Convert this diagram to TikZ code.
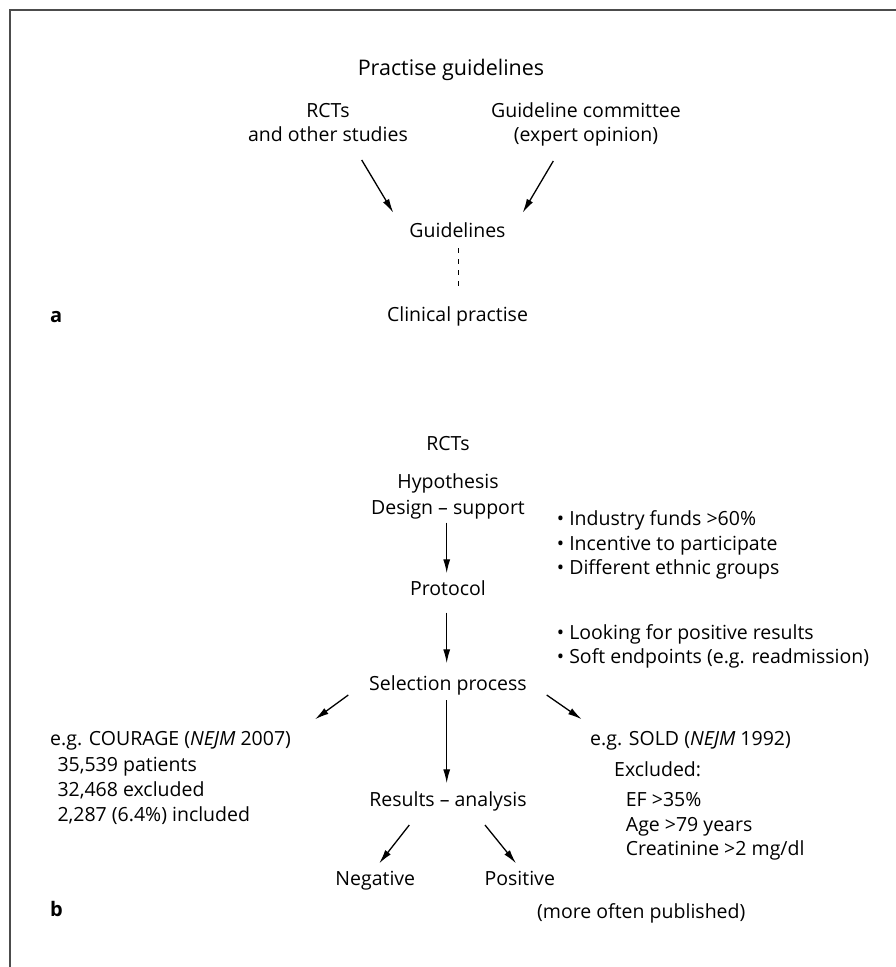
\documentclass[tikz,border=0pt]{standalone}
\usepackage{fontspec}
\setmainfont{Open Sans}
\usetikzlibrary{arrows.meta,calc}
\begin{document}
\begin{tikzpicture}[x=1pt,y=-1pt,
  txt/.style={inner sep=0pt,font=\fontsize{19.5}{23}\selectfont},
  ctr/.style={txt,anchor=base},
  lft/.style={txt,anchor=base west},
  arr/.style={line width=1.3pt,-{Latex[length=14pt,width=7pt]}},
  dsh/.style={line width=1.3pt,dash pattern=on 5pt off 6pt},
  lbl/.style={inner sep=0pt,anchor=base west,font=\fontsize{20}{24}\selectfont\bfseries},
  frame/.style={line width=2pt,draw=black!70}]
\useasboundingbox (0,0) rectangle (895,967);
\fill[white] (0,0) rectangle (895,967);
\draw[frame] (10,968) -- (10,10) -- (896,10);

% ---------- part a ----------
\node[ctr,font=\fontsize{21.5}{25}\selectfont] (title) at (451,75.7) {Practise guidelines};
\node[ctr] (rcts1) at (328,117.3) {RCTs};
\node[ctr] (rcts2) at (328,141.7) {and other studies};
\node[ctr] (gc1) at (586,117.3) {Guideline committee};
\node[ctr] (gc2) at (586,141.7) {(expert opinion)};
\node[ctr] (guide) at (457.5,237.3) {Guidelines};
\node[ctr] (clin) at (457.5,321.7) {Clinical practise};
\node[lbl] (la) at (50,322) {a};

\draw[arr] ($(rcts2.base)+(33.7,18.3)$) -- ($(guide.base)+(-64.2,-24.6)$);
\draw[arr] ($(gc2.base)+(-32.7,19.3)$) -- ($(guide.base)+(65.2,-24.6)$);
\draw[dsh] ($(guide.base)+(0.8,10.7)$) -- ($(clin.base)+(0.8,-31.7)$);

% ---------- part b ----------
\node[ctr] (rcts) at (448,450) {RCTs};
\node[ctr] (hyp1) at (448,488) {Hypothesis};
\node[ctr] (hyp2) at (448,514) {Design – support};
\node[ctr] (proto) at (448,595.7) {Protocol};
\node[ctr] (sel) at (448,690) {Selection process};
\node[ctr] (res) at (448,806.7) {Results – analysis};
\node[ctr] (neg) at (375.3,885) {Negative};
\node[ctr] (pos) at (519.8,885) {Positive};
\node[ctr] (pub) at (641.3,918.3) {(more often published)};

\node[lft] (i1) at (556.7,525) {• Industry funds >60\%};
\node[lft] (i2) at (556.7,550) {• Incentive to participate};
\node[lft] (i3) at (556.7,574) {• Different ethnic groups};
\node[lft] (i4) at (556.7,639) {• Looking for positive results};
\node[lft] (i5) at (556.7,663) {• Soft endpoints (e.g. readmission)};

\node[lft] (cou) at (50,745) {e.g. COURAGE (\textit{NEJM} 2007)};
\node[lft] (cou1) at (57.3,771.7) {35,539 patients};
\node[lft] (cou2) at (57.3,796.7) {32,468 excluded};
\node[lft] (cou3) at (57.3,821.7) {2,287 (6.4\%) included};

\node[lft] (sold) at (590,745) {e.g. SOLD (\textit{NEJM} 1992)};
\node[lft] (exc) at (614,776) {Excluded:};
\node[lft] (ex1) at (625.7,806.7) {EF >35\%};
\node[lft] (ex2) at (625.7,831) {Age >79 years};
\node[lft] (ex3) at (625.7,855) {Creatinine >2 mg/dl};

\node[lbl] (lb) at (50,916.7) {b};

\draw[arr] ($(hyp2.base)+(-1.3,8.7)$) -- ($(proto.base)+(-1.3,-22.4)$);
\draw[arr] ($(proto.base)+(-1.3,17)$) -- ($(sel.base)+(-1.3,-26.7)$);
\draw[arr] ($(sel.base)+(-99.7,5)$) -- ($(cou.base west)+(265,-25.7)$);
\draw[arr] ($(sel.base)+(-1.3,10)$) -- ($(res.base)+(-1.3,-23.4)$);
\draw[arr] ($(sel.base)+(98.7,5)$) -- ($(sold.base west)+(-8.3,-25.7)$);
\draw[arr] ($(res.base)+(-38.7,18.3)$) -- ($(neg.base)+(4,-21.7)$);
\draw[arr] ($(res.base)+(37,18.3)$) -- ($(pos.base)+(-3.8,-21.7)$);
\end{tikzpicture}
\end{document}
